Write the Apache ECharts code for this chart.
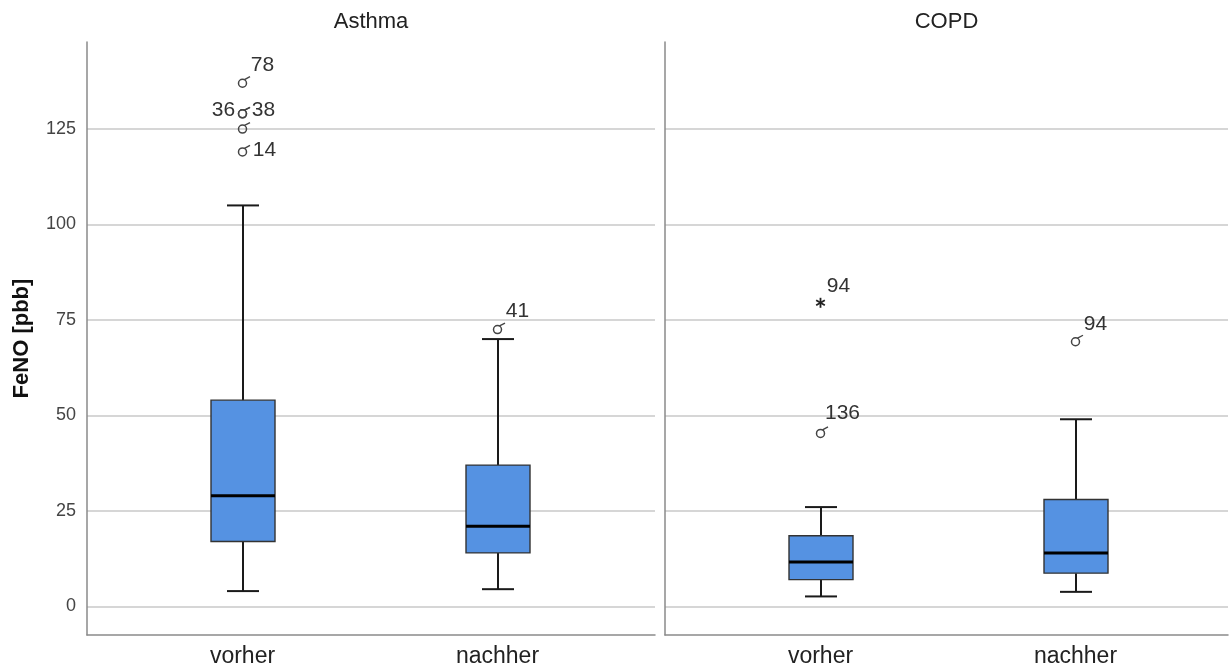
<!DOCTYPE html>
<html>
<head>
<meta charset="utf-8">
<script src="https://cdn.jsdelivr.net/npm/echarts@6/dist/echarts.min.js"></script>
<style>
  html, body { margin: 0; padding: 0; background: #ffffff; }
  #chart { width: 1230px; height: 670px; }
</style>
</head>
<body>
<div id="chart"></div>
<script>
// ---- data ----
const panels = ['Asthma', 'COPD'];
const timepoints = ['vorher', 'nachher'];
const yTicks = [0, 25, 50, 75, 100, 125];
const yName = 'FeNO [pbb]';

// five-number summaries per time point: [lower whisker, Q1, median, Q3, upper whisker]
const asthmaBoxes = [
  [4, 17, 29, 54, 105],
  [4.5, 14, 21, 37, 70]
];
const copdBoxes = [
  [2.6, 7, 11.6, 18.5, 26],
  [3.8, 8.7, 14, 28, 49]
];

// outlying cases: [time point index, value, case number, marker ('o' = outlier, '*' = extreme)]
const asthmaOutliers = [
  [0, 137, '78', 'o'],
  [0, 129, '38', 'o'],
  [0, 129, '36', 'o'],
  [0, 125, '', 'o'],
  [0, 119, '14', 'o'],
  [1, 72.5, '41', 'o']
];
const copdOutliers = [
  [0, 79.5, '94', '*'],
  [0, 45.3, '136', 'o'],
  [1, 69.3, '94', 'o']
];

// ---- layout / style ----
const FONT = '"Liberation Sans", Arial, sans-serif';
const Y_MIN = -7.5, Y_MAX = 147.8;
const BOX_W = 64, CAP_W = 32;
const BOX_FILL = '#5592e2';
const AXIS_COLOR = '#8a8a8a';
const GRID_COLOR = '#d6d6d6';

// where each case label sits relative to its marker (px)
const DEFAULT_LABEL_OFFSET = [20, -18];
const labelOffsets = {
  'Asthma:38': [21, -4],
  'Asthma:36': [-19, -4],
  'Asthma:14': [22, -2],
  'COPD:94*': [18, -17],
  'COPD:136': [22, -20]
};

const frameGrids = [
  { left: 87, top: 42, width: 568, height: 593 },
  { left: 665, top: 42, width: 563, height: 593 }
];
const plotGrids = [
  { left: 115, top: 42, width: 510, height: 593 },
  { left: 693, top: 42, width: 510, height: 593 }
];

function renderBox(params, api) {
  const x = api.value(0);
  const lo = api.coord([x, api.value(1)]);
  const q1 = api.coord([x, api.value(2)]);
  const med = api.coord([x, api.value(3)]);
  const q3 = api.coord([x, api.value(4)]);
  const hi = api.coord([x, api.value(5)]);
  const cx = Math.round(lo[0]);
  const whisker = { stroke: '#1a1a1a', lineWidth: 2 };
  return {
    type: 'group',
    children: [
      { type: 'line', shape: { x1: cx, y1: q3[1], x2: cx, y2: hi[1] }, style: whisker },
      { type: 'line', shape: { x1: cx, y1: q1[1], x2: cx, y2: lo[1] }, style: whisker },
      { type: 'line', shape: { x1: cx - CAP_W / 2, y1: hi[1], x2: cx + CAP_W / 2, y2: hi[1] }, style: whisker },
      { type: 'line', shape: { x1: cx - CAP_W / 2, y1: lo[1], x2: cx + CAP_W / 2, y2: lo[1] }, style: whisker },
      {
        type: 'rect',
        shape: { x: cx - BOX_W / 2, y: q3[1], width: BOX_W, height: q1[1] - q3[1] },
        style: { fill: BOX_FILL, stroke: '#333333', lineWidth: 1.4 }
      },
      { type: 'line', shape: { x1: cx - BOX_W / 2, y1: med[1], x2: cx + BOX_W / 2, y2: med[1] }, style: { stroke: '#000000', lineWidth: 3 } }
    ]
  };
}

function makeOutlierRenderer(panel, list) {
  return function (params, api) {
    const o = list[params.dataIndex];
    const p = api.coord([api.value(0), api.value(1)]);
    const children = [];
    if (o[3] === '*') {
      const r = 5;
      [0, 60, 120].forEach(function (deg) {
        const a = (deg + 90) * Math.PI / 180;
        children.push({
          type: 'line',
          shape: { x1: p[0] - r * Math.cos(a), y1: p[1] - r * Math.sin(a), x2: p[0] + r * Math.cos(a), y2: p[1] + r * Math.sin(a) },
          style: { stroke: '#222222', lineWidth: 1.8 }
        });
      });
    } else {
      children.push({
        type: 'circle',
        shape: { cx: p[0], cy: p[1], r: 4 },
        style: { fill: 'none', stroke: '#444444', lineWidth: 1.5 }
      });
      children.push({
        type: 'line',
        shape: { x1: p[0] + 2, y1: p[1] - 3.6, x2: p[0] + 7.5, y2: p[1] - 6.5 },
        style: { stroke: '#444444', lineWidth: 1.4 }
      });
    }
    if (o[2]) {
      const key = panel + ':' + o[2] + (o[3] === '*' ? '*' : '');
      const off = labelOffsets[key] || DEFAULT_LABEL_OFFSET;
      children.push({
        type: 'text',
        x: p[0] + off[0],
        y: p[1] + off[1],
        style: {
          text: o[2],
          fill: '#333333',
          font: '21px ' + FONT,
          align: 'center',
          verticalAlign: 'middle'
        }
      });
    }
    return { type: 'group', children: children };
  };
}

const boxSets = [asthmaBoxes, copdBoxes];
const outlierSets = [asthmaOutliers, copdOutliers];

const xAxes = [];
const yAxes = [];
const series = [];

frameGrids.forEach(function (g, i) {
  xAxes.push({
    gridIndex: i, type: 'value', min: 0, max: 1,
    axisLine: { show: true, onZero: false, lineStyle: { color: AXIS_COLOR, width: 1.5 } },
    axisTick: { show: false }, axisLabel: { show: false }, splitLine: { show: false }
  });
  yAxes.push({
    gridIndex: i, type: 'value', min: Y_MIN, max: Y_MAX,
    minInterval: 25, maxInterval: 25,
    name: i === 0 ? yName : '',
    nameLocation: 'middle', nameGap: 54,
    nameTextStyle: { fontFamily: FONT, fontSize: 22, fontWeight: 'bold', color: '#111111' },
    axisLine: { show: true, onZero: false, lineStyle: { color: AXIS_COLOR, width: 1.5 } },
    axisTick: { show: false },
    axisLabel: {
      show: i === 0, fontFamily: FONT, fontSize: 18, color: '#444444', margin: 11,
      showMinLabel: false, showMaxLabel: false,
      formatter: function (v) { return yTicks.indexOf(v) >= 0 ? String(v) : ''; }
    },
    splitLine: { show: true, showMinLine: false, showMaxLine: false, lineStyle: { color: GRID_COLOR, width: 2 } }
  });
});

plotGrids.forEach(function (g, i) {
  const gi = i + 2;
  xAxes.push({
    gridIndex: gi, type: 'category', data: timepoints,
    axisLine: { show: false }, axisTick: { show: false },
    axisLabel: { fontFamily: FONT, fontSize: 23, color: '#222222', margin: 10 },
    splitLine: { show: false }
  });
  yAxes.push({ gridIndex: gi, type: 'value', min: Y_MIN, max: Y_MAX, show: false });

  series.push({
    type: 'custom', name: panels[i] + ' box', xAxisIndex: gi, yAxisIndex: gi,
    data: boxSets[i].map(function (b, k) { return [k].concat(b); }),
    encode: { x: 0, y: [1, 2, 3, 4, 5] },
    renderItem: renderBox, silent: true, z: 3
  });
  series.push({
    type: 'custom', name: panels[i] + ' outliers', xAxisIndex: gi, yAxisIndex: gi,
    data: outlierSets[i].map(function (o) { return [o[0], o[1]]; }),
    encode: { x: 0, y: 1 },
    renderItem: makeOutlierRenderer(panels[i], outlierSets[i]), silent: true, z: 4
  });
});

const titleGraphics = panels.map(function (name, i) {
  const g = frameGrids[i];
  return {
    type: 'text',
    x: g.left + g.width / 2,
    y: 22,
    style: { text: name, fill: '#222222', font: '22px ' + FONT, align: 'center', verticalAlign: 'middle' }
  };
});

const chart = echarts.init(document.getElementById('chart'), null, { renderer: 'canvas' });
chart.setOption({
  backgroundColor: '#ffffff',
  animation: false,
  grid: frameGrids.concat(plotGrids),
  xAxis: xAxes,
  yAxis: yAxes,
  series: series,
  graphic: titleGraphics
});
</script>
</body>
</html>
